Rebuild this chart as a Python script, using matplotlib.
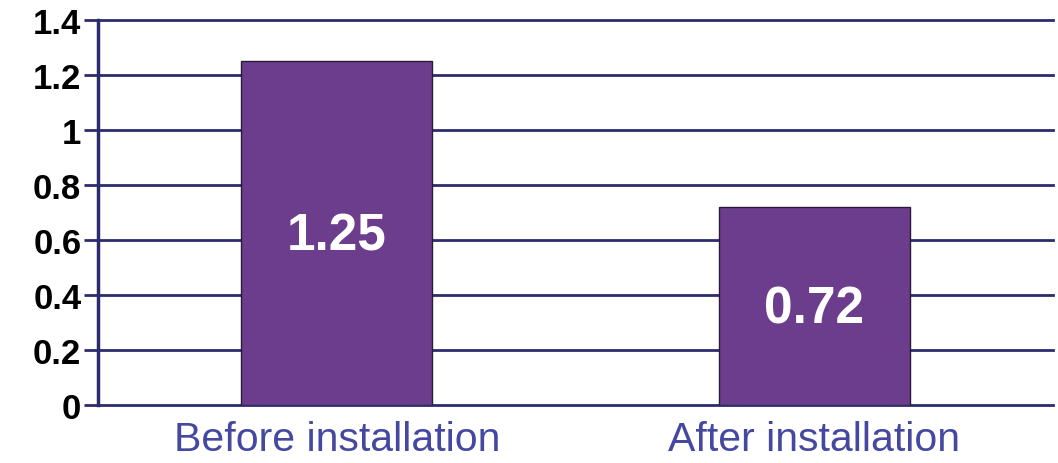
import matplotlib
matplotlib.use("Agg")
import matplotlib.pyplot as plt

categories = ["Before installation", "After installation"]
values = [1.25, 0.72]
value_labels = ["1.25", "0.72"]
yticks = [0, 0.2, 0.4, 0.6, 0.8, 1.0, 1.2, 1.4]
ytick_labels = ["0", "0.2", "0.4", "0.6", "0.8", "1", "1.2", "1.4"]

navy = "#2b2b6e"
fig = plt.figure(figsize=(10.58, 4.64), dpi=100)
ax = fig.add_axes([0.0926, 0.125, 0.9953 - 0.0926, 0.9547 - 0.125])

x = range(len(categories))
ax.bar(x, values, width=0.4, color="#6b3d8c", edgecolor="#2a1a3a", linewidth=1.0, zorder=3)
for xi, v, lab in zip(x, values, value_labels):
    ax.text(xi, v / 2 - 0.01, lab, ha="center", va="center", color="white",
            fontsize=37, fontweight="bold", family="Liberation Sans", zorder=4)

ax.set_xlim(-0.5, 1.5)
ax.set_ylim(0, 1.4)
ax.set_yticks(yticks)
ax.set_yticklabels(ytick_labels, fontsize=25, fontweight="bold", family="Liberation Sans")
ax.set_xticks(list(x))
ax.set_xticklabels(categories, fontsize=29.5, color="#4548a0", family="Liberation Sans")
ax.tick_params(axis="x", length=0, pad=11)
ax.tick_params(axis="y", length=10, width=2.0, color=navy, pad=2)
ax.grid(axis="y", color=navy, linewidth=2.0, zorder=1)
for gl in ax.get_ygridlines():
    gl.set_clip_on(False)
for s in ["top", "right", "bottom"]:
    ax.spines[s].set_visible(False)
ax.spines["left"].set_color(navy)
ax.spines["left"].set_linewidth(2.5)
ax.spines["left"].set_zorder(2)

fig.savefig("out.png", dpi=100)
